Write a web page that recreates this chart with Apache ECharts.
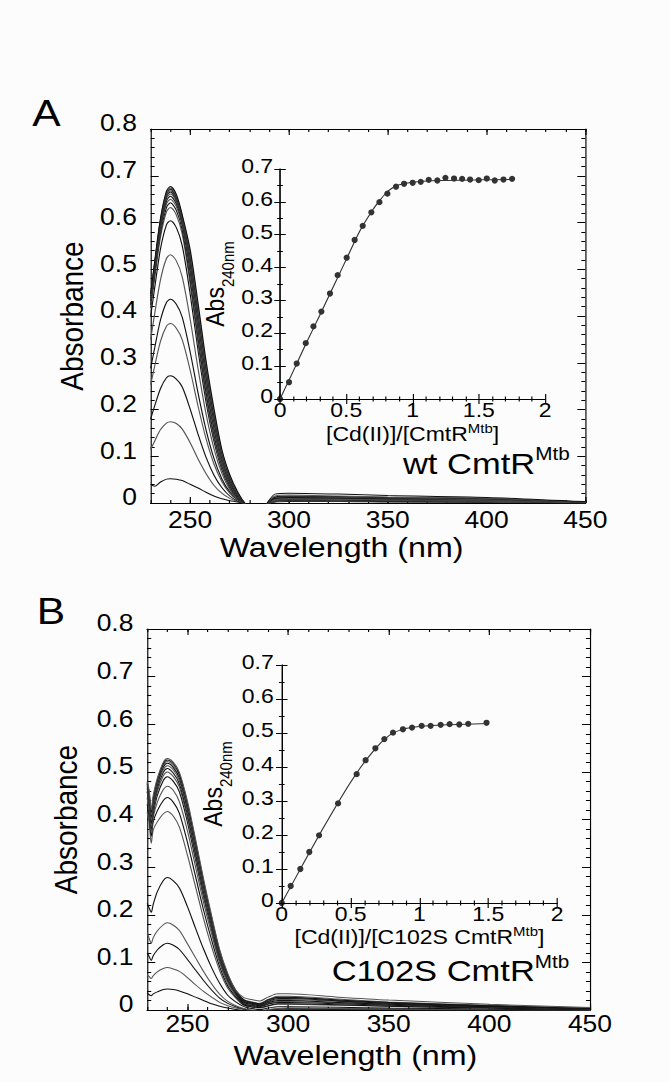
<!DOCTYPE html>
<html>
<head>
<meta charset="utf-8">
<title>Cd(II) titration of CmtR</title>
<script src="https://cdn.jsdelivr.net/npm/echarts@6/dist/echarts.min.js"></script>
<style>
  html, body { margin: 0; padding: 0; background: #fcfcfc; overflow: hidden; }
  /* the source figure is stretched about 1.15x horizontally */
  #chart { width: 583px; height: 1082px; transform: scaleX(1.15); transform-origin: 0 0; }
</style>
</head>
<body>
<div id="chart"></div>
<script>
// ---- panel A: wt CmtR spectra ----
const wlA = [230, 232, 235, 238, 240, 243, 246, 250, 254, 258, 262, 266, 270, 274, 278, 283, 288, 293, 300, 325, 350, 400, 450]
const spectraA = [
  [0.040, 0.036, 0.045, 0.051, 0.052, 0.051, 0.048, 0.040, 0.032, 0.023, 0.015, 0.009, 0.005, 0.002, -0.002, -0.008, -0.004, 0.002, 0.003, 0.003, 0.002, 0.001, 0.000],
  [0.115, 0.132, 0.157, 0.171, 0.174, 0.170, 0.158, 0.129, 0.094, 0.063, 0.038, 0.021, 0.010, 0.003, -0.002, -0.010, -0.004, 0.003, 0.005, 0.004, 0.003, 0.002, 0.000],
  [0.180, 0.207, 0.245, 0.268, 0.272, 0.265, 0.248, 0.201, 0.147, 0.098, 0.060, 0.033, 0.015, 0.004, -0.002, -0.012, -0.004, 0.004, 0.006, 0.005, 0.004, 0.003, 0.001],
  [0.253, 0.292, 0.346, 0.378, 0.384, 0.374, 0.349, 0.284, 0.207, 0.138, 0.084, 0.046, 0.021, 0.006, -0.002, -0.014, -0.005, 0.005, 0.007, 0.006, 0.005, 0.003, 0.001],
  [0.288, 0.331, 0.392, 0.429, 0.436, 0.425, 0.397, 0.323, 0.235, 0.157, 0.096, 0.052, 0.024, 0.007, -0.002, -0.015, -0.005, 0.006, 0.008, 0.007, 0.005, 0.004, 0.001],
  [0.350, 0.404, 0.478, 0.523, 0.531, 0.518, 0.483, 0.393, 0.287, 0.191, 0.117, 0.064, 0.029, 0.008, -0.003, -0.016, -0.005, 0.007, 0.009, 0.008, 0.006, 0.004, 0.001],
  [0.399, 0.459, 0.544, 0.595, 0.604, 0.589, 0.550, 0.447, 0.326, 0.217, 0.133, 0.072, 0.033, 0.009, -0.003, -0.017, -0.006, 0.008, 0.010, 0.009, 0.007, 0.005, 0.001],
  [0.417, 0.480, 0.569, 0.623, 0.632, 0.616, 0.575, 0.468, 0.341, 0.228, 0.139, 0.076, 0.035, 0.009, -0.003, -0.017, -0.005, 0.007, 0.009, 0.008, 0.007, 0.005, 0.001],
  [0.424, 0.488, 0.578, 0.632, 0.642, 0.626, 0.584, 0.479, 0.353, 0.238, 0.147, 0.081, 0.038, 0.011, -0.003, -0.017, -0.005, 0.009, 0.011, 0.010, 0.008, 0.006, 0.002],
  [0.429, 0.494, 0.585, 0.640, 0.650, 0.634, 0.592, 0.490, 0.364, 0.247, 0.155, 0.085, 0.041, 0.013, -0.003, -0.018, -0.005, 0.008, 0.010, 0.009, 0.008, 0.006, 0.001],
  [0.433, 0.499, 0.590, 0.646, 0.656, 0.640, 0.597, 0.499, 0.374, 0.256, 0.162, 0.090, 0.044, 0.014, -0.003, -0.018, -0.005, 0.010, 0.012, 0.011, 0.009, 0.007, 0.002],
  [0.436, 0.502, 0.595, 0.651, 0.661, 0.644, 0.602, 0.507, 0.383, 0.264, 0.169, 0.094, 0.047, 0.016, -0.003, -0.018, -0.005, 0.011, 0.013, 0.012, 0.010, 0.007, 0.002],
  [0.439, 0.505, 0.599, 0.655, 0.665, 0.648, 0.605, 0.514, 0.392, 0.273, 0.176, 0.098, 0.049, 0.017, -0.003, -0.018, -0.005, 0.010, 0.012, 0.011, 0.010, 0.008, 0.002],
  [0.441, 0.508, 0.601, 0.658, 0.668, 0.651, 0.608, 0.521, 0.401, 0.281, 0.183, 0.102, 0.052, 0.019, -0.003, -0.018, -0.005, 0.012, 0.014, 0.013, 0.011, 0.008, 0.002],
  [0.443, 0.510, 0.604, 0.661, 0.671, 0.654, 0.611, 0.528, 0.409, 0.289, 0.189, 0.107, 0.055, 0.021, -0.003, -0.018, -0.005, 0.013, 0.015, 0.014, 0.012, 0.009, 0.002],
  [0.445, 0.512, 0.607, 0.664, 0.674, 0.657, 0.613, 0.535, 0.418, 0.297, 0.196, 0.111, 0.058, 0.022, -0.002, -0.018, -0.005, 0.015, 0.017, 0.015, 0.013, 0.010, 0.002],
  [0.447, 0.515, 0.609, 0.667, 0.677, 0.660, 0.616, 0.542, 0.427, 0.305, 0.203, 0.115, 0.061, 0.024, -0.002, -0.018, -0.005, 0.019, 0.021, 0.019, 0.016, 0.012, 0.003]
]

// panel A inset: Abs240 vs [Cd(II)]/[CmtR]
const ratioA = [0, 0.068, 0.126, 0.194, 0.252, 0.312, 0.377, 0.435, 0.503, 0.563, 0.624, 0.689, 0.750, 0.810, 0.875, 0.936, 1.001, 1.062, 1.122, 1.187, 1.248, 1.313, 1.374, 1.434, 1.499, 1.560, 1.620, 1.686, 1.751]
const abs240A = [0, 0.051, 0.108, 0.170, 0.221, 0.266, 0.321, 0.377, 0.430, 0.484, 0.527, 0.568, 0.599, 0.625, 0.646, 0.655, 0.658, 0.661, 0.667, 0.665, 0.673, 0.671, 0.670, 0.668, 0.666, 0.671, 0.665, 0.668, 0.670]
const fitXA = [0, 0.1, 0.2, 0.3, 0.4, 0.5, 0.6, 0.7, 0.75, 0.8, 0.85, 0.9, 1.0, 1.2, 1.5, 1.75]
const fitYA = [0, 0.085, 0.172, 0.255, 0.340, 0.425, 0.510, 0.576, 0.603, 0.627, 0.643, 0.652, 0.660, 0.665, 0.667, 0.668]

// ---- panel B: C102S CmtR spectra ----
const wlB = [230, 231, 232, 233, 235, 238, 240, 243, 246, 250, 254, 258, 262, 266, 270, 274, 278, 282, 286, 290, 295, 300, 325, 350, 400, 450]
const spectraB = [
  [0.036, 0.032, 0.030, 0.034, 0.038, 0.043, 0.044, 0.043, 0.040, 0.034, 0.027, 0.020, 0.013, 0.008, 0.004, 0.001, -0.001, -0.003, -0.004, -0.002, 0.000, 0.001, 0.001, 0.000, 0.000, -0.001],
  [0.074, 0.070, 0.066, 0.072, 0.080, 0.087, 0.089, 0.086, 0.081, 0.068, 0.053, 0.039, 0.027, 0.016, 0.009, 0.004, 0.001, -0.002, -0.004, -0.001, 0.001, 0.002, 0.002, 0.001, 0.000, -0.001],
  [0.120, 0.112, 0.104, 0.114, 0.126, 0.137, 0.140, 0.136, 0.127, 0.106, 0.084, 0.062, 0.042, 0.025, 0.014, 0.007, 0.002, -0.001, -0.003, 0.000, 0.002, 0.003, 0.002, 0.002, 0.001, 0.000],
  [0.162, 0.150, 0.140, 0.152, 0.166, 0.179, 0.183, 0.178, 0.167, 0.139, 0.110, 0.081, 0.055, 0.033, 0.018, 0.009, 0.003, 0.000, -0.002, 0.001, 0.003, 0.004, 0.003, 0.002, 0.001, 0.000],
  [0.224, 0.214, 0.205, 0.222, 0.248, 0.272, 0.278, 0.271, 0.256, 0.217, 0.172, 0.128, 0.089, 0.056, 0.031, 0.017, 0.007, 0.003, 0.001, 0.004, 0.007, 0.007, 0.006, 0.004, 0.002, 0.000],
  [0.415, 0.392, 0.350, 0.378, 0.395, 0.412, 0.417, 0.407, 0.384, 0.325, 0.259, 0.192, 0.133, 0.083, 0.046, 0.025, 0.010, 0.006, 0.004, 0.008, 0.012, 0.012, 0.010, 0.008, 0.004, 0.001],
  [0.432, 0.405, 0.365, 0.395, 0.418, 0.440, 0.446, 0.436, 0.413, 0.352, 0.281, 0.210, 0.147, 0.091, 0.051, 0.028, 0.011, 0.007, 0.005, 0.009, 0.013, 0.013, 0.011, 0.008, 0.004, 0.001],
  [0.445, 0.418, 0.372, 0.405, 0.436, 0.463, 0.470, 0.461, 0.437, 0.376, 0.301, 0.226, 0.160, 0.099, 0.056, 0.031, 0.014, 0.010, 0.008, 0.013, 0.018, 0.018, 0.015, 0.011, 0.006, 0.002],
  [0.458, 0.428, 0.380, 0.412, 0.450, 0.482, 0.490, 0.480, 0.458, 0.394, 0.316, 0.238, 0.169, 0.105, 0.061, 0.033, 0.013, 0.009, 0.007, 0.012, 0.016, 0.016, 0.013, 0.010, 0.005, 0.001],
  [0.460, 0.432, 0.385, 0.418, 0.458, 0.492, 0.500, 0.490, 0.468, 0.403, 0.323, 0.243, 0.173, 0.108, 0.063, 0.034, 0.017, 0.013, 0.010, 0.016, 0.022, 0.022, 0.018, 0.013, 0.007, 0.002],
  [0.466, 0.436, 0.392, 0.424, 0.465, 0.499, 0.507, 0.497, 0.475, 0.410, 0.330, 0.249, 0.177, 0.111, 0.065, 0.035, 0.016, 0.012, 0.009, 0.015, 0.020, 0.020, 0.016, 0.012, 0.007, 0.002],
  [0.470, 0.440, 0.398, 0.430, 0.470, 0.505, 0.513, 0.504, 0.481, 0.417, 0.337, 0.255, 0.182, 0.115, 0.068, 0.037, 0.019, 0.015, 0.012, 0.019, 0.026, 0.026, 0.020, 0.015, 0.009, 0.003],
  [0.474, 0.445, 0.405, 0.436, 0.474, 0.510, 0.518, 0.509, 0.487, 0.423, 0.343, 0.260, 0.186, 0.118, 0.070, 0.038, 0.018, 0.014, 0.011, 0.018, 0.024, 0.024, 0.019, 0.014, 0.008, 0.003],
  [0.476, 0.450, 0.410, 0.440, 0.478, 0.514, 0.522, 0.513, 0.492, 0.429, 0.349, 0.265, 0.191, 0.121, 0.072, 0.040, 0.022, 0.017, 0.014, 0.022, 0.029, 0.029, 0.023, 0.017, 0.010, 0.004],
  [0.478, 0.455, 0.415, 0.445, 0.482, 0.517, 0.525, 0.517, 0.495, 0.434, 0.354, 0.270, 0.194, 0.124, 0.074, 0.041, 0.021, 0.016, 0.013, 0.021, 0.027, 0.027, 0.021, 0.016, 0.009, 0.003],
  [0.480, 0.460, 0.420, 0.450, 0.486, 0.520, 0.528, 0.520, 0.499, 0.438, 0.359, 0.275, 0.198, 0.127, 0.077, 0.042, 0.026, 0.022, 0.019, 0.027, 0.034, 0.034, 0.027, 0.021, 0.012, 0.005]
]

// panel B inset
const ratioB = [0, 0.065, 0.135, 0.200, 0.271, 0.409, 0.544, 0.609, 0.680, 0.745, 0.808, 0.880, 0.946, 1.016, 1.081, 1.154, 1.219, 1.289, 1.354, 1.487]
const abs240B = [0, 0.050, 0.100, 0.150, 0.199, 0.293, 0.379, 0.420, 0.455, 0.482, 0.501, 0.511, 0.516, 0.521, 0.521, 0.524, 0.526, 0.525, 0.527, 0.530]
const fitXB = [0, 0.1, 0.2, 0.3, 0.4, 0.5, 0.6, 0.7, 0.75, 0.8, 0.85, 0.9, 1.0, 1.2, 1.5]
const fitYB = [0, 0.074, 0.148, 0.220, 0.289, 0.355, 0.414, 0.463, 0.483, 0.498, 0.507, 0.513, 0.519, 0.524, 0.528]

// tick labels
const wlTicks = [250, 300, 350, 400, 450]

const FONT = '"Liberation Sans", Arial, sans-serif'
const BLACK = '#000'

const tick = (len) => ({ show: true, inside: true, length: len, lineStyle: { color: BLACK, width: 1 } })
const axisLine = { show: true, lineStyle: { color: BLACK, width: 1 } }
const labelStyle = (size, extra) => ({ fontSize: size, fontFamily: FONT, color: BLACK, lineHeight: size, showMinLabel: true, showMaxLabel: true, ...extra })

// wavelength axes: minor ticks every 10 nm, major ticks + labels from wlTicks, mirrored on top
function wavelengthAxes(gridIndex, labelMargin, title) {
  const base = { type: 'value', gridIndex, min: 230, max: 450, splitLine: { show: false }, axisLine }
  const minor = { ...base, interval: 10, axisTick: tick(3), axisLabel: { show: false } }
  const major = { ...base, axisTick: { ...tick(6), customValues: wlTicks }, axisLabel: { show: false } }
  return [
    { ...minor, position: 'bottom' },
    { ...major, position: 'bottom', axisLabel: labelStyle(23, { customValues: wlTicks, margin: labelMargin }), ...title },
    { ...minor, position: 'top' },
    { ...major, position: 'top' }
  ]
}

// generic value axis pair (labelled side + mirrored side)
function valueAxes(dim, gridIndex, max, interval, minorSplit, tickLen, label, title) {
  const base = {
    type: 'value', gridIndex, min: 0, max, interval,
    splitLine: { show: false }, axisLine,
    axisTick: tick(tickLen),
    minorTick: { show: true, splitNumber: minorSplit, length: tickLen / 2, lineStyle: { color: BLACK } }
  }
  const sides = dim === 'x' ? ['bottom', 'top'] : ['left', 'right']
  return [
    { ...base, position: sides[0], axisLabel: label, ...title },
    { ...base, position: sides[1], axisLabel: { show: false } }
  ]
}

const nameStyle = { fontSize: 28, fontFamily: FONT, color: BLACK }
const richTitle = {
  n: { fontSize: 20, lineHeight: 22, verticalAlign: 'bottom', fontFamily: FONT, color: BLACK },
  s: { fontSize: 13, lineHeight: 13, verticalAlign: 'top', fontFamily: FONT, color: BLACK }
}
const richAbs = {
  n: { fontSize: 23, lineHeight: 30, verticalAlign: 'top', fontFamily: FONT, color: BLACK },
  s: { fontSize: 15, lineHeight: 15, verticalAlign: 'bottom', fontFamily: FONT, color: BLACK }
}
const richPanel = {
  n: { fontSize: 30, lineHeight: 34, verticalAlign: 'bottom', fontFamily: FONT, fill: BLACK },
  s: { fontSize: 18, lineHeight: 18, verticalAlign: 'top', fontFamily: FONT, fill: BLACK }
}

const xAxis = [
  // 0-3: panel A spectra
  ...wavelengthAxes(0, 6, {
    name: 'Wavelength (nm)', nameLocation: 'middle', nameGap: 30,
    nameTextStyle: { ...nameStyle, padding: [0, 46, 0, 0] }
  }),
  // 4-5: panel A inset
  ...valueAxes('x', 1, 2, 0.5, 5, 5, labelStyle(20, { margin: 1 }), {
    name: '{n|[Cd(II)]/[CmtR}{s|Mtb}{n|]}', nameLocation: 'middle', nameGap: 23,
    nameTextStyle: { rich: richTitle }
  }),
  // 6-9: panel B spectra
  ...wavelengthAxes(2, 3, {
    name: 'Wavelength (nm)', nameLocation: 'middle', nameGap: 31,
    nameTextStyle: { ...nameStyle, padding: [0, 23, 0, 0] }
  }),
  // 10-11: panel B inset
  ...valueAxes('x', 3, 2, 0.5, 5, 5, labelStyle(20, { margin: 1 }), {
    name: '{n|[Cd(II)]/[C102S CmtR}{s|Mtb}{n|]}', nameLocation: 'middle', nameGap: 21,
    nameTextStyle: { rich: richTitle }
  })
]

// y labels sit a few px above their ticks in the source: short line box, bottom-aligned
const yLabelMain = labelStyle(23, { margin: 12, lineHeight: 11, verticalAlign: 'bottom' })
const yLabelInset = (m) => labelStyle(20, { margin: m, lineHeight: 6, verticalAlign: 'bottom' })

const yAxis = [
  ...valueAxes('y', 0, 0.8, 0.1, 5, 7, yLabelMain, {
    name: 'Absorbance', nameLocation: 'middle', nameGap: 51, nameTextStyle: nameStyle
  }),
  ...valueAxes('y', 1, 0.7, 0.1, 2, 5, yLabelInset(6), {
    name: '{n|Abs}{s|240nm}', nameLocation: 'middle', nameGap: 38, nameTextStyle: { rich: richAbs }
  }),
  ...valueAxes('y', 2, 0.8, 0.1, 5, 7, yLabelMain, {
    name: 'Absorbance', nameLocation: 'middle', nameGap: 57, nameTextStyle: nameStyle
  }),
  ...valueAxes('y', 3, 0.7, 0.1, 2, 5, yLabelInset(7), {
    name: '{n|Abs}{s|240nm}', nameLocation: 'middle', nameGap: 41, nameTextStyle: { rich: richAbs }
  })
]

function spectrumSeries(wl, curves, xi, yi) {
  return curves.map((vals, i) => ({
    type: 'line', xAxisIndex: xi, yAxisIndex: yi,
    data: wl.map((w, j) => [w, vals[j]]),
    showSymbol: false, smooth: 0.3, silent: true,
    lineStyle: { width: 1, color: i % 2 ? '#555' : '#111' }
  }))
}

function titrationSeries(xs, ys, fx, fy, xi, yi) {
  return [
    {
      type: 'line', xAxisIndex: xi, yAxisIndex: yi,
      data: fx.map((x, i) => [x, fy[i]]),
      showSymbol: false, smooth: 0.2, silent: true,
      lineStyle: { width: 1, color: '#333' }
    },
    {
      type: 'scatter', xAxisIndex: xi, yAxisIndex: yi,
      data: xs.map((x, i) => [x, ys[i]]),
      symbol: 'circle', symbolSize: [5.4, 6.2], silent: true,
      itemStyle: { color: BLACK }
    }
  ]
}

const option = {
  backgroundColor: '#fcfcfc',
  animation: false,
  grid: [
    { left: 131, top: 129, width: 378, height: 374, outerBoundsMode: 'none' },
    { left: 243.5, top: 169, width: 230.5, height: 230, outerBoundsMode: 'none' },
    { left: 128, top: 629, width: 385, height: 381, outerBoundsMode: 'none' },
    { left: 245, top: 665, width: 239.5, height: 238, outerBoundsMode: 'none' }
  ],
  xAxis,
  yAxis,
  series: [
    ...spectrumSeries(wlA, spectraA, 0, 0),
    ...titrationSeries(ratioA, abs240A, fitXA, fitYA, 4, 2),
    ...spectrumSeries(wlB, spectraB, 6, 4),
    ...titrationSeries(ratioB, abs240B, fitXB, fitYB, 10, 6)
  ],
  graphic: [
    { type: 'text', x: 28, y: 113.5, style: { text: 'A', fontSize: 37, fontFamily: FONT, fill: BLACK, verticalAlign: 'middle' } },
    { type: 'text', x: 32, y: 611, style: { text: 'B', fontSize: 37, fontFamily: FONT, fill: BLACK, verticalAlign: 'middle' } },
    { type: 'text', x: 350.4, y: 444.5, style: { text: '{n|wt CmtR}{s|Mtb}', verticalAlign: 'top', rich: richPanel } },
    { type: 'text', x: 288.4, y: 952, style: { text: '{n|C102S CmtR}{s|Mtb}', verticalAlign: 'top', rich: richPanel } }
  ]
}

const chart = echarts.init(document.getElementById('chart'), null, { renderer: 'svg' })
chart.setOption(option)
</script>
</body>
</html>
